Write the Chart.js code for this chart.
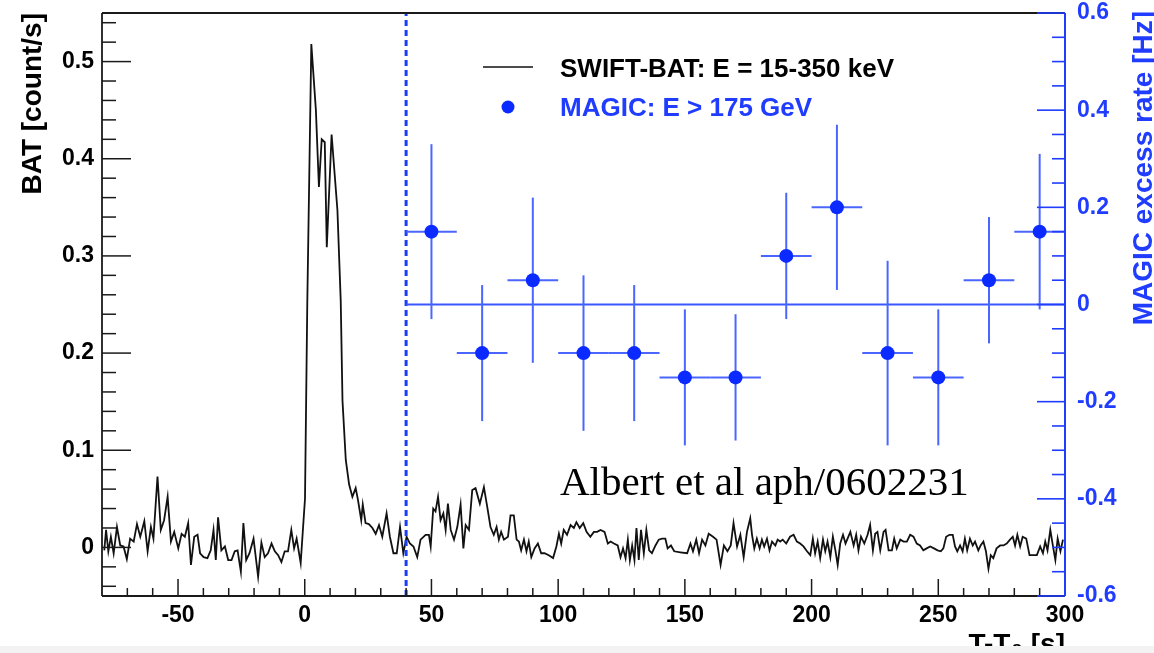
<!DOCTYPE html>
<html>
<head>
<meta charset="utf-8">
<script src="https://cdn.jsdelivr.net/npm/chart.js@4.4.1/dist/chart.umd.min.js"></script>
<style>
  html, body { margin: 0; padding: 0; background: #fff; }
  #wrap { width: 1154px; height: 653px; position: relative; }
</style>
</head>
<body>
<div id="wrap"><canvas id="lc"></canvas></div>
<script>
// ---- SWIFT-BAT light curve (count/s) ----
const batTime = [
  -79.1, -78.4, -77.5, -76.5, -75.4, -74.1, -72.8, -71.5, -70.2, -68.9,
  -67.5, -66.2, -64.9, -63.3, -62.0, -60.7, -59.7, -58.1, -56.8, -55.5,
  -54.1, -52.8, -51.5, -49.9, -48.6, -47.3, -46.0, -44.9, -43.6, -42.3,
  -41.3, -39.9, -38.4, -37.1, -36.0, -35.1, -34.2, -32.9, -31.5, -30.2,
  -28.9, -27.6, -26.5, -25.2, -24.2, -23.1, -21.8, -20.2, -18.4, -17.1,
  -15.8, -14.5, -13.1, -11.8, -10.5, -9.2, -7.9, -6.6, -5.3, -4.2,
  -3.2, -1.6,
  0.1, 1.0, 2.6, 4.4, 5.6, 6.7, 7.9, 8.7, 10.6, 12.9,
  14.2, 14.9, 16.2, 17.5, 18.8, 20.1, 21.0, 22.3, 22.9, 24.0,
  25.3, 26.7, 28.0, 29.3, 30.6, 32.3, 33.6, 35.0, 36.3, 37.6,
  38.9, 40.2, 41.5, 42.9, 44.4, 45.7, 47.7, 49.0, 49.7, 50.7,
  51.6, 52.6, 53.6, 54.7, 55.6, 56.5, 57.6, 58.9, 60.2, 61.5,
  62.6, 63.5, 64.8, 66.1, 67.4, 69.1, 70.7, 72.0, 73.3, 74.6,
  75.7, 76.6, 77.5, 78.6, 80.2, 81.2, 82.5, 83.6, 84.5, 85.4,
  86.5, 87.5, 88.4, 89.4, 90.7, 92.0, 93.3, 94.6, 96.3, 98.0,
  99.3, 100.3, 101.2, 102.2, 103.5, 104.9, 106.2, 107.2, 108.5, 109.9,
  111.2, 112.7, 114.1, 115.4, 116.7, 118.3, 119.6, 120.7, 122.0, 123.5,
  124.6, 125.6, 126.6, 127.5, 128.3, 129.2, 130.1, 130.9, 131.8, 132.7,
  133.8, 134.8, 135.9, 137.0, 138.4, 139.7, 141.0, 142.3, 143.2, 144.5,
  145.8, 148.2, 150.9, 152.2, 153.2, 154.5, 155.6, 156.8, 158.1, 159.4,
  161.1, 162.5, 164.1, 165.4, 166.8, 168.1, 169.2, 170.6, 171.9, 173.2,
  174.5, 175.8, 176.5, 177.4, 178.4, 179.5, 180.4, 181.3, 182.4, 183.4,
  184.4, 185.7, 186.6, 187.6, 188.6, 190.0, 191.5, 192.9, 194.2, 195.5,
  196.8, 198.2, 199.5, 200.5, 201.4, 202.4, 203.4, 204.5, 205.4, 206.3,
  207.4, 208.4, 209.4, 210.3, 211.3, 212.4, 213.4, 214.2, 215.3, 216.6,
  217.6, 218.5, 219.5, 220.8, 222.1, 223.1, 224.2, 225.1, 226.0, 227.1,
  228.4, 229.2, 230.4, 231.7, 232.6, 233.6, 235.0, 236.3, 237.6, 238.9,
  240.2, 241.5, 242.8, 244.1, 245.4, 246.8, 248.3, 249.7, 251.0, 252.0,
  253.1, 254.4, 255.7, 256.6, 257.5, 258.6, 259.6, 260.5, 261.4, 262.5,
  263.6, 264.5, 265.8, 266.7, 267.8, 268.8, 269.8, 270.7, 271.7, 273.0,
  274.4, 275.7, 277.0, 278.3, 279.4, 280.3, 281.2, 282.3, 283.3, 284.7,
  286.0, 287.6, 288.9, 290.2, 291.3, 292.2, 293.1, 294.2, 295.2, 296.2,
  297.1, 298.2, 299.2
];
const batRate = [
  -0.003, 0.018, -0.004, 0.011, -0.006, 0.021, 0.002, 0.001, -0.012, 0.009,
  0.006, 0.024, 0.011, 0.027, -0.004, 0.021, 0.009, 0.073, 0.018, 0.028,
  0.052, 0.006, 0.016, -0.001, 0.014, 0.011, 0.025, -0.018, 0.011, 0.013,
  -0.006, -0.010, -0.011, -0.003, 0.018, -0.013, 0.031, -0.003, 0.001, -0.013,
  -0.013, -0.004, -0.003, -0.025, 0.025, -0.013, -0.006, 0.009, -0.030, 0.005,
  -0.010, -0.006, 0.004, -0.004, -0.008, -0.015, -0.004, -0.004, 0.018, -0.001,
  0.009, -0.016,
  0.050, 0.250, 0.518, 0.450, 0.371, 0.420, 0.417, 0.309, 0.425, 0.347,
  0.254, 0.151, 0.090, 0.065, 0.052, 0.061, 0.049, 0.028, 0.044, 0.025,
  0.024, 0.020, 0.014, 0.023, 0.011, 0.035, 0.011, -0.006, -0.006, 0.021,
  -0.006, 0.011, 0.004, 0.001, -0.010, 0.008, 0.013, 0.013, 0.001, 0.040,
  0.037, 0.052, 0.028, 0.035, 0.018, 0.045, 0.018, 0.008, 0.021, 0.044,
  -0.001, 0.023, 0.018, 0.059, 0.061, 0.045, 0.062, 0.042, 0.021, 0.013,
  0.021, 0.008, 0.016, 0.008, 0.011, 0.033, 0.033, 0.008, 0.006, -0.003,
  0.008, -0.004, 0.006, -0.010, -0.001, 0.004, -0.006, -0.006, -0.008, -0.011,
  0.001, 0.014, 0.004, 0.018, 0.013, 0.023, 0.020, 0.026, 0.020, 0.025,
  0.016, 0.011, 0.016, 0.016, 0.018, 0.016, 0.004, 0.006, 0.004, 0.002,
  -0.010, -0.001, -0.011, 0.008, -0.013, 0.002, -0.013, 0.020, -0.013, 0.018,
  -0.006, 0.018, -0.003, -0.006, 0.002, 0.008, 0.009, 0.009, -0.001, 0.002,
  -0.004, -0.005, -0.006, 0.004, -0.004, 0.008, -0.006, 0.008, 0.002, 0.014,
  0.011, 0.008, -0.018, 0.002, -0.004, 0.002, 0.025, 0.001, 0.013, -0.010,
  0.016, 0.030, 0.013, -0.001, 0.009, -0.001, 0.008, 0.001, 0.009, -0.003,
  0.006, 0.002, 0.008, 0.006, 0.008, 0.004, 0.011, 0.013, 0.006, 0.004,
  0.001, -0.004, -0.008, 0.009, -0.006, 0.006, -0.011, 0.008, -0.004, 0.006,
  -0.010, 0.011, -0.003, -0.018, 0.004, 0.013, 0.004, 0.009, 0.016, 0.002,
  0.013, -0.003, 0.011, 0.004, 0.013, 0.023, -0.003, 0.014, 0.016, -0.003,
  0.016, 0.018, -0.003, -0.003, 0.009, -0.001, 0.008, 0.006, 0.006, 0.013,
  0.011, 0.004, 0.002, -0.003, -0.001, 0.001, -0.001, -0.003, -0.004, -0.001,
  0.011, 0.013, 0.013, 0.001, -0.004, 0.002, -0.004, 0.009, -0.003, 0.009,
  0.002, 0.006, -0.003, 0.002, 0.006, -0.004, -0.022, -0.008, -0.011, -0.001,
  0.002, 0.002, 0.004, 0.008, 0.011, 0.002, 0.013, 0.001, 0.011, 0.009,
  -0.008, -0.008, -0.008, 0.001, -0.006, 0.006, -0.003, 0.018, 0.002, -0.013,
  0.009, -0.004, 0.008
];

// ---- MAGIC excess rate (Hz), 20 s bins ----
const magicTime = [50, 70, 90, 110, 130, 150, 170, 190, 210, 230, 250, 270, 290];
const magicRate = [0.15, -0.10, 0.05, -0.10, -0.10, -0.15, -0.15, 0.10, 0.20, -0.10, -0.15, 0.05, 0.15];
const magicErr  = [0.18, 0.14, 0.17, 0.16, 0.14, 0.14, 0.13, 0.13, 0.17, 0.19, 0.14, 0.13, 0.16];
const magicHalfBin = 10;

// start of MAGIC observation, baseline
const magicStart = 40;
const magicEnd = 300;

// axis ticks
const timeTicks = [-50, 0, 50, 100, 150, 200, 250, 300];
const batTicks = [0, 0.1, 0.2, 0.3, 0.4, 0.5];
const magicTicks = [-0.6, -0.4, -0.2, 0, 0.2, 0.4, 0.6];

const BLUE = "#1f3cff";
const SANS = "'Liberation Sans', Arial, Helvetica, sans-serif";
const tickFont = { family: SANS, size: 23, weight: "bold" };

function fmt(v) {
  return Math.abs(v) < 1e-9 ? "0" : String(Math.round(v * 10) / 10);
}

function seg(ctx, x1, y1, x2, y2) {
  ctx.beginPath();
  ctx.moveTo(x1, y1);
  ctx.lineTo(x2, y2);
  ctx.stroke();
}

// error bars under the MAGIC markers
const errorBars = {
  id: "errorBars",
  beforeDatasetDraw(chart, args) {
    if (args.index !== 0) return;
    const { ctx, scales } = chart;
    const xs = scales.x, ys = scales.y2;
    ctx.save();
    ctx.strokeStyle = "#4a66ff";
    ctx.lineWidth = 2;
    magicTime.forEach((t, i) => {
      const px = xs.getPixelForValue(t);
      const py = ys.getPixelForValue(magicRate[i]);
      seg(ctx, xs.getPixelForValue(t - magicHalfBin), py, xs.getPixelForValue(t + magicHalfBin), py);
      seg(ctx, px, ys.getPixelForValue(magicRate[i] + magicErr[i]), px, ys.getPixelForValue(magicRate[i] - magicErr[i]));
    });
    ctx.restore();
  },
};

// ROOT-like frame: inward ticks, titles, legend, note
const rootFrame = {
  id: "rootFrame",
  beforeDraw(chart) {
    const { ctx, width, height } = chart;
    ctx.save();
    ctx.fillStyle = "#fff";
    ctx.fillRect(0, 0, width, height);
    ctx.restore();
  },
  afterDraw(chart) {
    const { ctx, chartArea: a, scales } = chart;
    ctx.save();
    ctx.lineCap = "butt";

    // black frame
    ctx.strokeStyle = "#1a1a1a";
    ctx.lineWidth = 1.8;
    seg(ctx, a.left, a.top, a.right, a.top);
    seg(ctx, a.left, a.top, a.left, a.bottom);
    seg(ctx, a.left, a.bottom, a.right, a.bottom);

    // bottom ticks
    ctx.lineWidth = 1.5;
    for (let k = -7; k <= 29; k++) {
      const v = k * 10;
      const px = scales.x.getPixelForValue(v);
      const len = v % 50 === 0 ? 17 : 8;
      seg(ctx, px, a.bottom, px, a.bottom - len);
    }
    // left ticks
    for (let k = -2; k <= 27; k++) {
      const py = scales.y.getPixelForValue(k * 0.02);
      const len = k % 5 === 0 ? 29 : 14;
      seg(ctx, a.left, py, a.left + len, py);
    }

    // right blue axis
    ctx.strokeStyle = BLUE;
    ctx.lineWidth = 2;
    seg(ctx, a.right, a.top, a.right, a.bottom);
    ctx.lineWidth = 1.6;
    for (let k = -12; k <= 12; k++) {
      const py = scales.y2.getPixelForValue(k * 0.05);
      const len = k % 4 === 0 ? 28 : 13;
      seg(ctx, a.right, py, a.right - len, py);
    }

    // axis titles
    ctx.font = "bold 28px " + SANS;
    ctx.textBaseline = "alphabetic";
    ctx.fillStyle = "#000";
    ctx.save();
    ctx.translate(41, a.top);
    ctx.rotate(-Math.PI / 2);
    ctx.textAlign = "right";
    ctx.fillText("BAT [count/s]", 0, 0);
    ctx.restore();

    ctx.save();
    ctx.fillStyle = BLUE;
    ctx.translate(1152, a.top - 2);
    ctx.rotate(-Math.PI / 2);
    ctx.textAlign = "right";
    ctx.fillText("MAGIC excess rate [Hz]", 0, 0);
    ctx.restore();

    ctx.textAlign = "right";
    ctx.fillStyle = "#000";
    ctx.fillText("T-T\u2080 [s]", a.right, 653);

    // legend
    ctx.strokeStyle = "#111";
    ctx.lineWidth = 1.6;
    seg(ctx, 483, 67, 533, 67);
    ctx.fillStyle = "#0a2aff";
    ctx.beginPath();
    ctx.arc(508, 107, 6.5, 0, Math.PI * 2);
    ctx.fill();
    ctx.font = "bold 26px " + SANS;
    ctx.textAlign = "left";
    ctx.fillStyle = "#000";
    ctx.fillText(chart.data.datasets[3].label, 560, 77);
    ctx.fillStyle = BLUE;
    ctx.fillText(chart.data.datasets[0].label, 560, 116);

    // reference note
    ctx.font = "41px 'Liberation Serif', 'Times New Roman', serif";
    ctx.fillStyle = "#000";
    ctx.fillText("Albert et al aph/0602231", 560, 495);

    // light strip at the bottom edge of the slide
    ctx.fillStyle = "#f3f3f3";
    ctx.fillRect(0, 646, chart.width, 7);
    ctx.restore();
  },
};

new Chart(document.getElementById("lc"), {
  type: "line",
  data: {
    datasets: [
      {
        label: "MAGIC: E > 175 GeV",
        data: magicTime.map((t, i) => ({ x: t, y: magicRate[i] })),
        yAxisID: "y2",
        showLine: false,
        pointRadius: 7,
        pointBackgroundColor: "#0a2aff",
        pointBorderWidth: 0,
      },
      {
        label: "baseline",
        data: [{ x: magicStart, y: 0 }, { x: magicEnd, y: 0 }],
        yAxisID: "y2",
        borderColor: "#3a58ff",
        borderWidth: 2,
        pointRadius: 0,
      },
      {
        label: "start",
        data: [{ x: magicStart, y: -0.05 }, { x: magicStart, y: 0.55 }],
        yAxisID: "y",
        borderColor: "#1a3cff",
        borderWidth: 3,
        borderDash: [6, 4],
        pointRadius: 0,
      },
      {
        label: "SWIFT-BAT: E = 15-350 keV",
        data: batTime.map((t, i) => ({ x: t, y: batRate[i] })),
        yAxisID: "y",
        borderColor: "#111",
        borderWidth: 1.8,
        pointRadius: 0,
        tension: 0,
      },
    ],
  },
  options: {
    responsive: true,
    maintainAspectRatio: false,
    animation: false,
    layout: { padding: { top: 13, left: 0, right: 0, bottom: 0 } },
    plugins: { legend: { display: false }, tooltip: { enabled: false } },
    scales: {
      x: {
        type: "linear",
        min: -80,
        max: 300,
        grid: { display: false, drawTicks: false },
        border: { display: false },
        afterBuildTicks(s) { s.ticks = timeTicks.map((v) => ({ value: v })); },
        afterFit(s) { s.height = 57; s.paddingLeft = 0; s.paddingRight = 0; },
        ticks: { font: tickFont, color: "#000", padding: 6, maxRotation: 0, autoSkip: false, callback: (v) => String(v) },
      },
      y: {
        position: "left",
        min: -0.05,
        max: 0.55,
        grid: { display: false, drawTicks: false },
        border: { display: false },
        afterBuildTicks(s) { s.ticks = batTicks.map((v) => ({ value: v })); },
        afterFit(s) { s.width = 102; s.paddingTop = 0; s.paddingBottom = 0; },
        ticks: { font: tickFont, color: "#000", padding: 8, callback: fmt },
      },
      y2: {
        position: "right",
        min: -0.6,
        max: 0.6,
        grid: { display: false, drawTicks: false },
        border: { display: false },
        afterBuildTicks(s) { s.ticks = magicTicks.map((v) => ({ value: v })); },
        afterFit(s) { s.width = 89; s.paddingTop = 0; s.paddingBottom = 0; },
        ticks: { font: tickFont, color: BLUE, padding: 12, callback: fmt },
      },
    },
  },
  plugins: [errorBars, rootFrame],
});
</script>
</body>
</html>
